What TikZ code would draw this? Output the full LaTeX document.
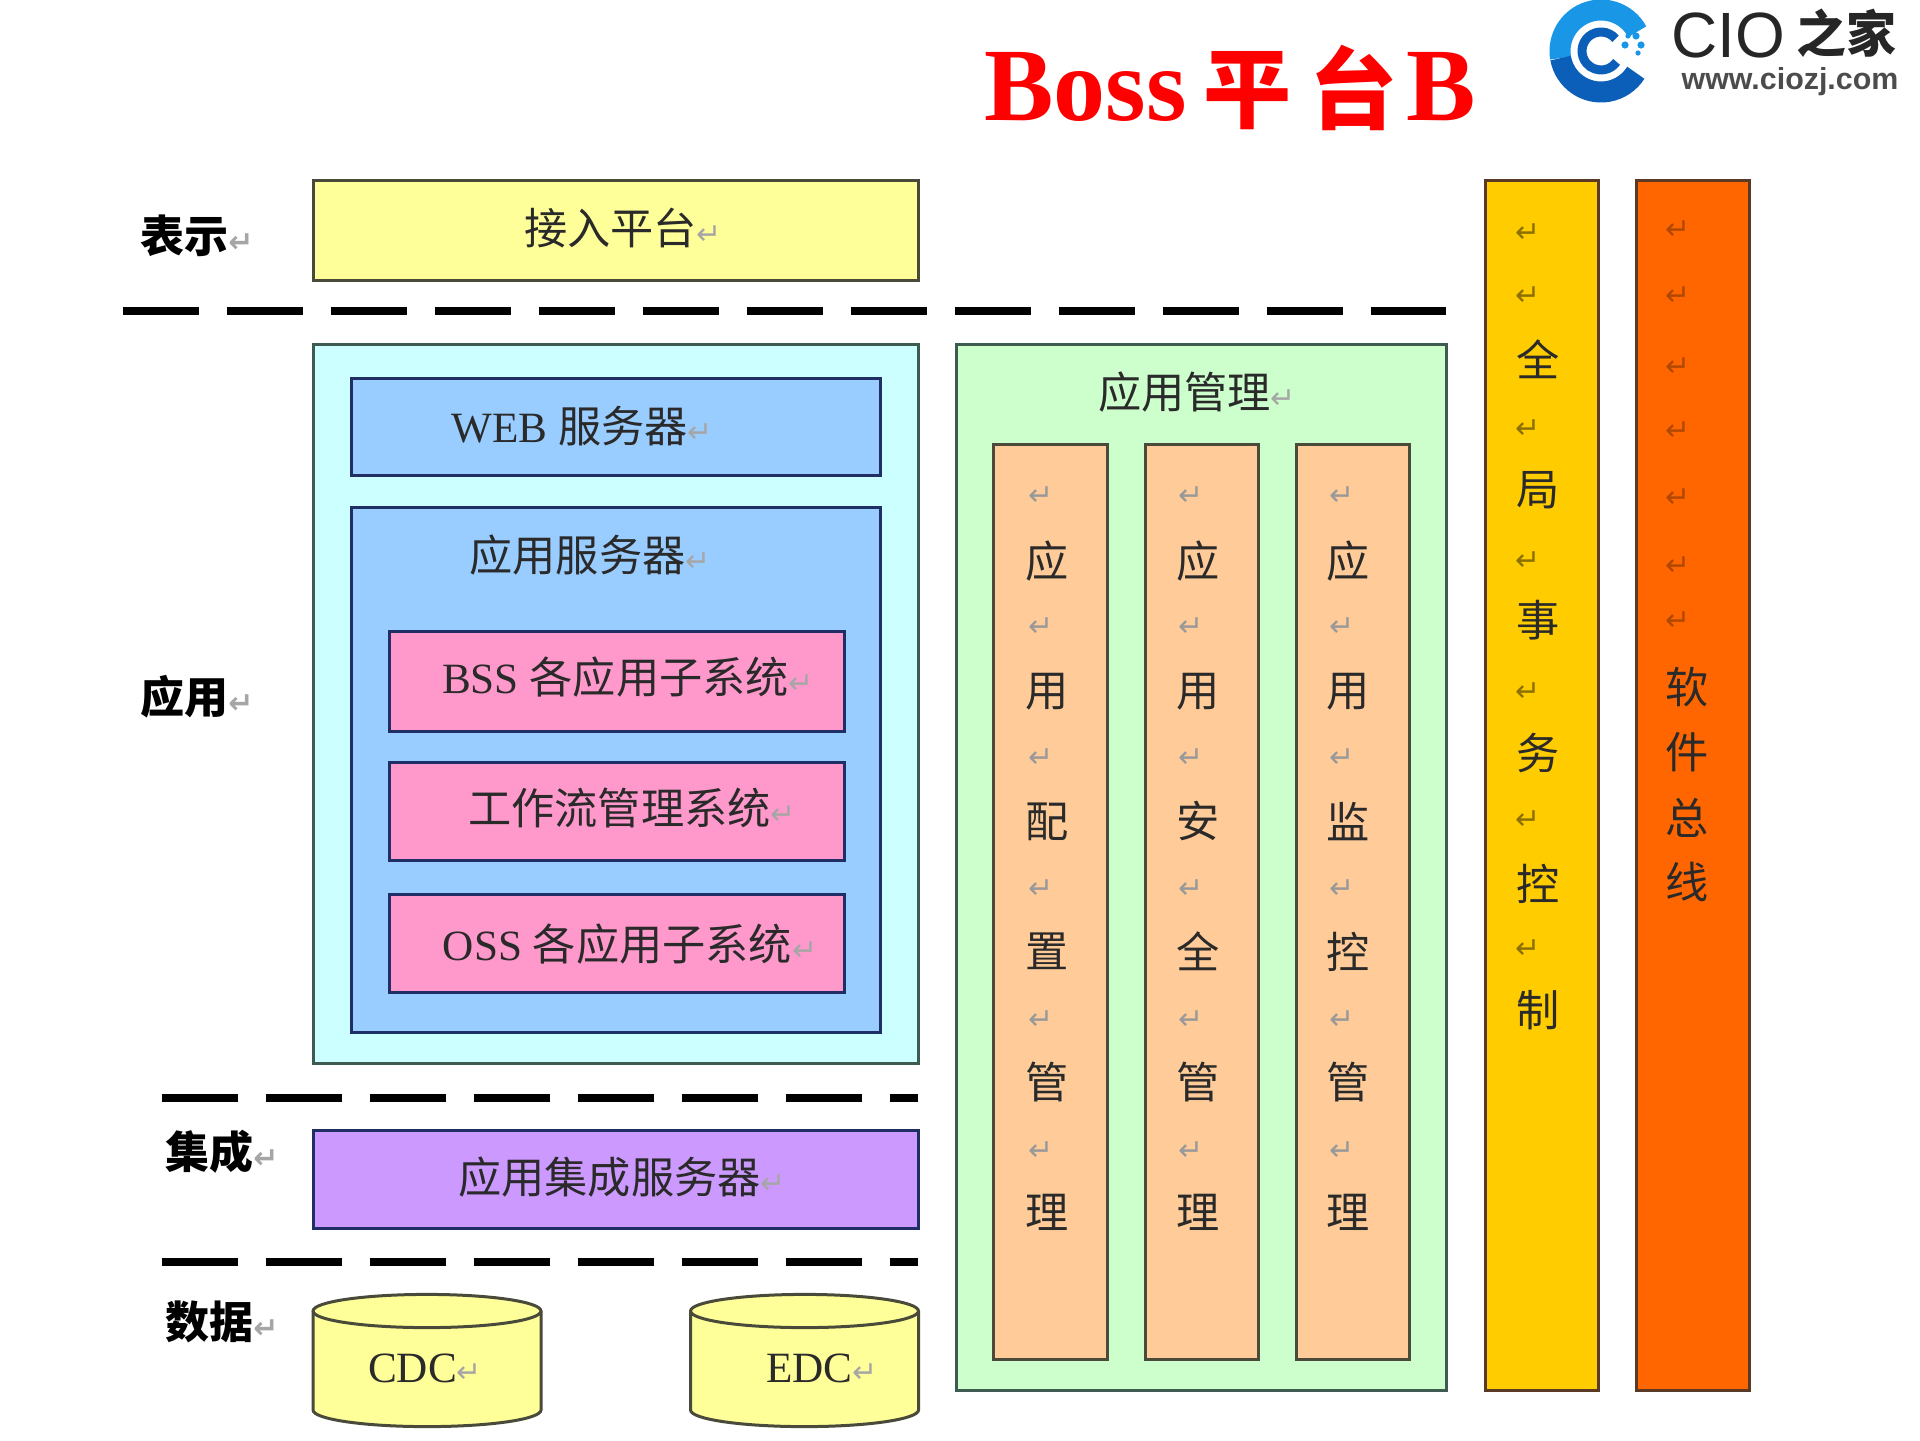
\documentclass[tikz,border=0pt]{standalone}
\usepackage{fontspec}
\setmainfont{Liberation Serif}
\newfontfamily\cjk{Noto Sans CJK SC}
\newfontfamily\symb{DejaVu Sans}
\newfontfamily\logofont{Liberation Sans}
\definecolor{cyellow}{HTML}{FFFF99}
\definecolor{ccyan}{HTML}{CCFFFF}
\definecolor{cblue}{HTML}{99CCFF}
\definecolor{cpink}{HTML}{FF99CC}
\definecolor{cpurple}{HTML}{CC99FF}
\definecolor{cgreen}{HTML}{CCFFCC}
\definecolor{cpeach}{HTML}{FFCC99}
\definecolor{cgold}{HTML}{FFCC00}
\definecolor{corange}{HTML}{FF6600}
\definecolor{edgeA}{HTML}{4A4A3A}
\definecolor{edgeB}{HTML}{1F2F66}
\definecolor{edgeC}{HTML}{3F5A50}
\definecolor{edgeD}{HTML}{5A3A25}
\definecolor{txt}{HTML}{2A2A2A}
\definecolor{logoA}{HTML}{1A96E6}
\definecolor{logoB}{HTML}{0C5FB8}
\newcommand{\mk}{{\symb\fontsize{15}{15}\selectfont\color{black!35}↵}}
\newcommand{\bx}[6]{%
  \pgfmathsetmacro{\cxv}{(#3+#5)/2}\pgfmathsetmacro{\cyv}{(#4+#6)/2}%
  \pgfmathsetmacro{\wv}{(#5-#3)*0.5}\pgfmathsetmacro{\hv}{(#6-#4)*0.5}%
  \node[#2,minimum width=\wv pt,minimum height=\hv pt] (#1) at (\cxv,\cyv) {};}
% cylinder: #1 name, #2 centre x, #3 top-ellipse centre y, #4 bottom-ellipse centre y
\newcommand{\dbc}[4]{%
  \coordinate (#1top) at (#2,#3);
  \coordinate (#1bot) at (#2,#4);
  \draw[dbcyl] ([xshift=-57pt]#1top) arc[start angle=180,end angle=0,x radius=57pt,y radius=8.3pt]
    -- ([xshift=57pt]#1bot) arc[start angle=0,end angle=-180,x radius=57pt,y radius=8.3pt] -- cycle;
  \draw[dbcyl,fill=none] ([xshift=-57pt]#1top) arc[start angle=180,end angle=360,x radius=57pt,y radius=8.3pt];}
\tikzset{
  boxshape/.style={rectangle,draw,line width=1.5pt,inner sep=0pt,outer sep=0pt},
  yellowbox/.style={boxshape,fill=cyellow,draw=edgeA},
  cyanbox/.style={boxshape,fill=ccyan,draw=edgeC},
  bluebox/.style={boxshape,fill=cblue,draw=edgeB},
  pinkbox/.style={boxshape,fill=cpink,draw=edgeB},
  purplebox/.style={boxshape,fill=cpurple,draw=edgeB},
  greenbox/.style={boxshape,fill=cgreen,draw=edgeC},
  peachbox/.style={boxshape,fill=cpeach,draw=edgeA},
  goldbox/.style={boxshape,fill=cgold,draw=edgeD},
  orangebox/.style={boxshape,fill=corange,draw=edgeD},
  dbcyl/.style={fill=cyellow,draw=edgeA,line width=1.5pt},
  label text/.style={text=txt,inner sep=0pt,font=\fontsize{21.6}{21.6}\selectfont},
  side text/.style={text=black,inner sep=0pt,font=\fontsize{22}{22}\selectfont\bfseries},
  vert char/.style={text=txt,inner sep=0pt,font=\fontsize{21.6}{21.6}\selectfont\cjk},
  ret mark/.style={inner sep=0pt,text=black!40,font=\symb\fontsize{15}{15}\selectfont},
  ret faint/.style={inner sep=0pt,text=black!30!corange,font=\symb\fontsize{15}{15}\selectfont},
  divider/.style={line width=4.3pt,black,dash pattern=on 38pt off 14pt},
  title text/.style={text=red,inner sep=0pt,font=\fontsize{52}{52}\selectfont\bfseries},
  title cjk/.style={text=red,inner sep=0pt,font=\fontsize{44}{44}\selectfont\cjk\bfseries},
}
\begin{document}
\begin{tikzpicture}[x=0.5pt,y=-0.5pt]
\useasboundingbox (0,0) rectangle (1920,1440);
% title
\node[title text,anchor=base west] (tBoss) at (984,120) {Boss};
\node[title cjk] (tPing) at (1247,91) {平};
\node[title cjk] (tTai) at (1353,88) {台};
\node[title text,anchor=base west] (tB) at (1406,120) {B};
% logo
\coordinate (lc) at (1601,51);
\draw[line width=10.5pt,color=logoA] ([shift={(28:20.5pt)}]lc) arc[start angle=28,end angle=190,radius=20.5pt];
\draw[line width=10.5pt,color=logoB] ([shift={(190:20.5pt)}]lc) arc[start angle=190,end angle=328,radius=20.5pt];
\draw[line width=4.5pt,color=logoB] ([shift={(40:9.5pt)}]lc) arc[start angle=40,end angle=325,radius=9.5pt];
\fill[logoA] (1625,45) circle (1.8pt) (1636,36) circle (1.8pt) (1641,45) circle (1.8pt) (1628,36) circle (1.3pt) (1638,53) circle (1.3pt);
\node[inner sep=0pt,text=black!85,font=\logofont\fontsize{32}{32}\selectfont] (lg1) at (1728,35) {CIO};
\node[inner sep=0pt,text=black!85,font=\cjk\fontsize{25}{25}\selectfont\bfseries] (lg2) at (1846,33) {之家};
\node[inner sep=0pt,text=black!70,font=\logofont\fontsize{15.2}{15.2}\selectfont\bfseries] (lg3) at (1790,82) {www.ciozj.com};
% boxes
\bx{access}{yellowbox}{313}{180}{918}{280}
\bx{appouter}{cyanbox}{313}{344}{918}{1063}
\bx{web}{bluebox}{351}{378}{880}{475}
\bx{appsrv}{bluebox}{351}{507}{880}{1032}
\bx{bss}{pinkbox}{389}{631}{844}{731}
\bx{wf}{pinkbox}{389}{762}{844}{860}
\bx{oss}{pinkbox}{389}{894}{844}{992}
\bx{integ}{purplebox}{313}{1130}{918}{1228}
\bx{mgmt}{greenbox}{956}{344}{1446}{1390}
\bx{colA}{peachbox}{993}{444}{1107}{1359}
\bx{colB}{peachbox}{1145}{444}{1258}{1359}
\bx{colC}{peachbox}{1296}{444}{1409}{1359}
\bx{gold}{goldbox}{1485}{180}{1598}{1390}
\bx{orng}{orangebox}{1636}{180}{1749}{1390}
\dbc{cdc}{427}{1311}{1410}
\dbc{edc}{804.5}{1311}{1410}
% dividers
\coordinate (d1a) at (123,311); \coordinate (d1b) at (1446,311);
\coordinate (d2a) at (162,1098); \coordinate (d2b) at (918,1098);
\coordinate (d3a) at (162,1262); \coordinate (d3b) at (918,1262);
\draw[divider] (d1a) -- (d1b);
\draw[divider] (d2a) -- (d2b);
\draw[divider] (d3a) -- (d3b);
% labels
\node[side text] (sA) at (197,236) {\cjk 表示\mk};
\node[side text] (sB) at (197,697) {\cjk 应用\mk};
\node[side text] (sC) at (222,1152) {\cjk 集成\mk};
\node[side text] (sD) at (222,1322) {\cjk 数据\mk};
\node[label text] (lA) at (623,228) {\cjk 接入平台\mk};
\node[label text] (lB) at (582,426) {WEB {\cjk 服务器}\mk};
\node[label text] (lC) at (590,555) {\cjk 应用服务器\mk};
\node[label text] (lD) at (628,677) {BSS {\cjk 各应用子系统}\mk};
\node[label text] (lE) at (632,808) {\cjk 工作流管理系统\mk};
\node[label text] (lF) at (630,944) {OSS {\cjk 各应用子系统}\mk};
\node[label text] (lG) at (622,1177) {\cjk 应用集成服务器\mk};
\node[label text] (lH) at (425,1368) {CDC\mk};
\node[label text] (lI) at (822,1368) {EDC\mk};
\node[label text] (lJ) at (1197,392) {\cjk 应用管理\mk};
% management columns
\foreach \nm/\xc/\xm/\chars in {a/1047/1041/{应,用,配,置,管,理},b/1198/1191/{应,用,安,全,管,理},c/1348/1342/{应,用,监,控,管,理}}{
  \foreach \ch [count=\i] in \chars {
    \pgfmathsetmacro{\yc}{561+(\i-1)*130.2}
    \pgfmathsetmacro{\ym}{496+(\i-1)*131}
    \node[vert char] (v\nm\i) at (\xc,\yc) {\ch};
    \node[ret mark] (m\nm\i) at (\xm,\ym) {↵};
  }
}
% global transaction control
\foreach \ch/\yy [count=\i] in {全/359,局/490,事/620,务/753,控/884,制/1010}{
  \node[vert char] (g\i) at (1538,\yy) {\ch};
}
\foreach \yy [count=\i] in {233,296,429,561,692,820,949}{
  \node[ret mark,text=black!45!cgold] (gm\i) at (1528,\yy) {↵};
}
% software bus
\foreach \ch/\yy [count=\i] in {软/687,件/752,总/818,线/882}{
  \node[vert char] (o\i) at (1687,\yy) {\ch};
}
\foreach \yy [count=\i] in {230,296,367,431,498,566,621}{
  \node[ret faint] (om\i) at (1678,\yy) {↵};
}
\end{tikzpicture}
\end{document}
